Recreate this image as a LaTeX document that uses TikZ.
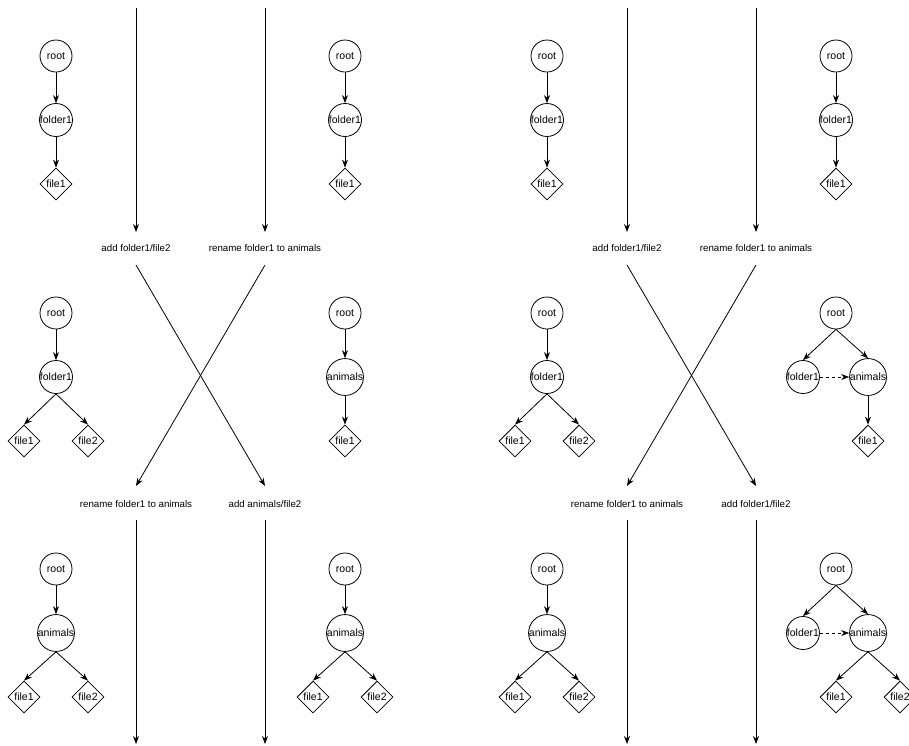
\documentclass[tikz,border=0pt]{standalone}
\usepackage{fontspec}
\setmainfont{Liberation Sans}
\usetikzlibrary{arrows.meta,shapes.geometric}
\begin{document}
\begin{tikzpicture}[x=1pt,y=-1pt,
  dir/.style={draw, circle, minimum size=32pt, inner sep=0pt, line width=0.8pt, font=\fontsize{10.5}{12}\selectfont},
  fil/.style={draw, diamond, minimum size=32pt, inner sep=0pt, line width=0.8pt, font=\fontsize{10.5}{12}\selectfont},
  lbl/.style={font=\fontsize{9.7}{12}\selectfont, inner sep=0pt},
  edge/.style={-{Stealth[length=8pt,width=6pt]}, line width=0.8pt},
  flow/.style={-{Stealth[length=8pt,width=6pt]}, line width=0.8pt},
  moved/.style={edge, dashed}]
\useasboundingbox (0,0) rectangle (909,745);

% ---------------- left scenario ----------------
% timeline A
\coordinate (a0) at (136,8);
\coordinate (a1) at (136,232);
\node[lbl] (la1) at (136,248) {add folder1/file2};
\coordinate (a2) at (136,265);
\coordinate (a3) at (136,486);
\node[lbl] (la2) at (136,504) {rename folder1 to animals};
\coordinate (a4) at (136,520);
\coordinate (a5) at (136,744);
% timeline B
\coordinate (b0) at (265,8);
\coordinate (b1) at (265,232);
\node[lbl] (lb1) at (265,248) {rename folder1 to animals};
\coordinate (b2) at (265,265);
\coordinate (b3) at (265,486);
\node[lbl] (lb2) at (265,504) {add animals/file2};
\coordinate (b4) at (265,520);
\coordinate (b5) at (265,744);
\draw[flow] (a0) -- (a1);
\draw[flow] (b0) -- (b1);
\draw[flow] (a2) -- (b3);
\draw[flow] (b2) -- (a3);
\draw[flow] (a4) -- (a5);
\draw[flow] (b4) -- (b5);

% initial trees
\node[dir] (L1r) at (56,56) {root};
\node[dir] (L1f) at (56,120) {folder1};
\node[fil] (L1a) at (56,184) {file1};
\draw[edge] (L1r) -- (L1f);
\draw[edge] (L1f) -- (L1a);

\node[dir] (L2r) at (345,56) {root};
\node[dir] (L2f) at (345,120) {folder1};
\node[fil] (L2a) at (345,184) {file1};
\draw[edge] (L2r) -- (L2f);
\draw[edge] (L2f) -- (L2a);

% after first operation
\node[dir] (L3r) at (56,313) {root};
\node[dir] (L3f) at (56,377) {folder1};
\node[fil] (L3a) at (24,441) {file1};
\node[fil] (L3b) at (88,441) {file2};
\draw[edge] (L3r) -- (L3f);
\draw[edge] (L3f.south) -- (L3a.north);
\draw[edge] (L3f.south) -- (L3b.north);

\node[dir] (L4r) at (345,313) {root};
\node[dir] (L4f) at (345,377) {animals};
\node[fil] (L4a) at (345,441) {file1};
\draw[edge] (L4r) -- (L4f);
\draw[edge] (L4f) -- (L4a);

% merged results
\node[dir] (L5r) at (56,569) {root};
\node[dir] (L5f) at (56,633) {animals};
\node[fil] (L5a) at (24,697) {file1};
\node[fil] (L5b) at (88,697) {file2};
\draw[edge] (L5r) -- (L5f);
\draw[edge] (L5f.south) -- (L5a.north);
\draw[edge] (L5f.south) -- (L5b.north);

\node[dir] (L6r) at (345,569) {root};
\node[dir] (L6f) at (345,633) {animals};
\node[fil] (L6a) at (313,697) {file1};
\node[fil] (L6b) at (377,697) {file2};
\draw[edge] (L6r) -- (L6f);
\draw[edge] (L6f.south) -- (L6a.north);
\draw[edge] (L6f.south) -- (L6b.north);

% ---------------- right scenario ----------------
% timeline C
\coordinate (c0) at (627,8);
\coordinate (c1) at (627,232);
\node[lbl] (lc1) at (627,248) {add folder1/file2};
\coordinate (c2) at (627,265);
\coordinate (c3) at (627,486);
\node[lbl] (lc2) at (627,504) {rename folder1 to animals};
\coordinate (c4) at (627,520);
\coordinate (c5) at (627,744);
% timeline D
\coordinate (d0) at (756,8);
\coordinate (d1) at (756,232);
\node[lbl] (ld1) at (756,248) {rename folder1 to animals};
\coordinate (d2) at (756,265);
\coordinate (d3) at (756,486);
\node[lbl] (ld2) at (756,504) {add folder1/file2};
\coordinate (d4) at (756,520);
\coordinate (d5) at (756,744);
\draw[flow] (c0) -- (c1);
\draw[flow] (d0) -- (d1);
\draw[flow] (c2) -- (d3);
\draw[flow] (d2) -- (c3);
\draw[flow] (c4) -- (c5);
\draw[flow] (d4) -- (d5);

% initial trees
\node[dir] (R1r) at (547,56) {root};
\node[dir] (R1f) at (547,120) {folder1};
\node[fil] (R1a) at (547,184) {file1};
\draw[edge] (R1r) -- (R1f);
\draw[edge] (R1f) -- (R1a);

\node[dir] (R2r) at (836,56) {root};
\node[dir] (R2f) at (836,120) {folder1};
\node[fil] (R2a) at (836,184) {file1};
\draw[edge] (R2r) -- (R2f);
\draw[edge] (R2f) -- (R2a);

% after first operation
\node[dir] (R3r) at (547,313) {root};
\node[dir] (R3f) at (547,377) {folder1};
\node[fil] (R3a) at (515,441) {file1};
\node[fil] (R3b) at (579,441) {file2};
\draw[edge] (R3r) -- (R3f);
\draw[edge] (R3f.south) -- (R3a.north);
\draw[edge] (R3f.south) -- (R3b.north);

\node[dir] (R4r) at (836,313) {root};
\node[dir] (R4f) at (803,377) {folder1};
\node[dir] (R4n) at (868,377) {animals};
\node[fil] (R4a) at (868,441) {file1};
\draw[edge] (R4r.south) -- (R4f.north);
\draw[edge] (R4r.south) -- (R4n.north);
\draw[moved] (R4f) -- (R4n);
\draw[edge] (R4n) -- (R4a);

% merged results
\node[dir] (R5r) at (547,569) {root};
\node[dir] (R5f) at (547,633) {animals};
\node[fil] (R5a) at (515,697) {file1};
\node[fil] (R5b) at (579,697) {file2};
\draw[edge] (R5r) -- (R5f);
\draw[edge] (R5f.south) -- (R5a.north);
\draw[edge] (R5f.south) -- (R5b.north);

\node[dir] (R6r) at (836,569) {root};
\node[dir] (R6f) at (803,633) {folder1};
\node[dir] (R6n) at (868,633) {animals};
\node[fil] (R6a) at (836,697) {file1};
\node[fil] (R6b) at (900,697) {file2};
\draw[edge] (R6r.south) -- (R6f.north);
\draw[edge] (R6r.south) -- (R6n.north);
\draw[moved] (R6f) -- (R6n);
\draw[edge] (R6n.south) -- (R6a.north);
\draw[edge] (R6n.south) -- (R6b.north);
\end{tikzpicture}
\end{document}
